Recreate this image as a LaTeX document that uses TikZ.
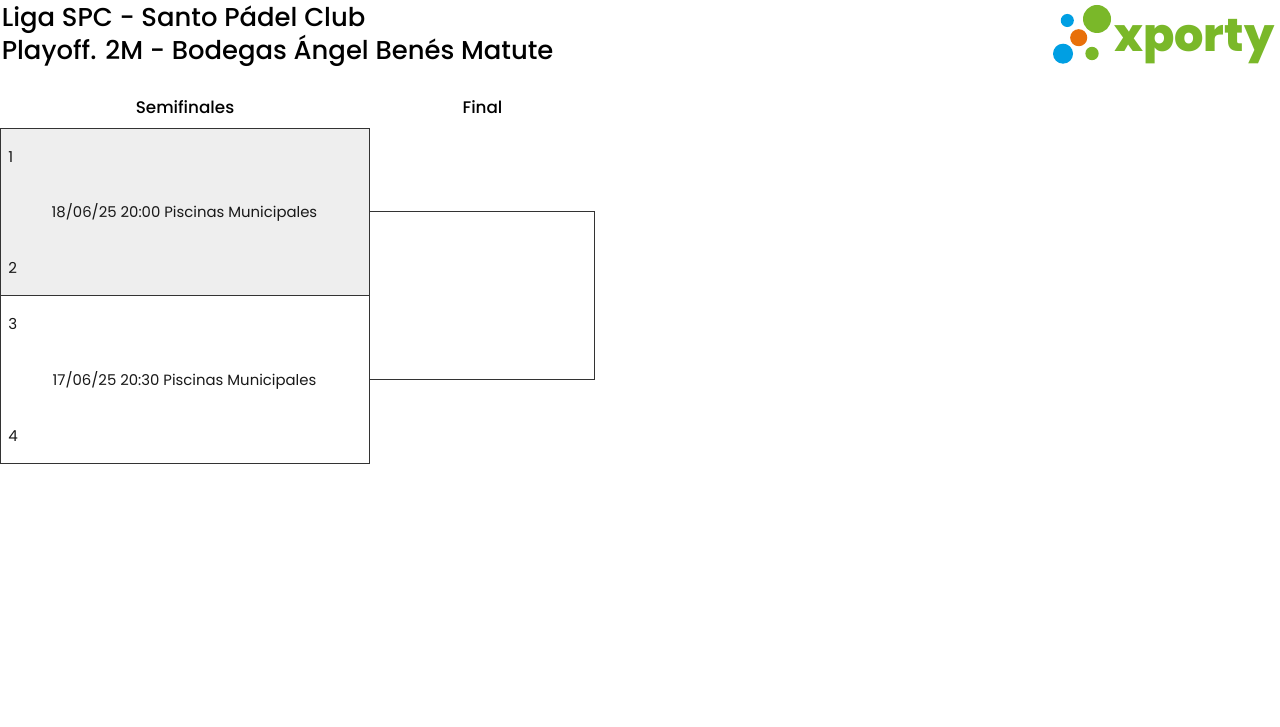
\documentclass[tikz,border=0pt]{standalone}
\usepackage{fontspec}
\setmainfont{Poppins}
\newfontfamily\mediumfont{Poppins Medium}
\newfontfamily\logofont{Poppins ExtraBold}
\definecolor{linecol}{HTML}{333333}
\definecolor{shade}{HTML}{EEEEEE}
\definecolor{xgreen}{HTML}{7AB829}
\definecolor{xblue}{HTML}{009FE3}
\definecolor{xorange}{HTML}{E8700A}
\tikzset{
  x=0.75pt,y=-0.75pt,
  matchbox/.style={draw=linecol,line width=0.75pt,outer sep=0pt,minimum width=276.75pt,minimum height=126pt,inner sep=0pt,anchor=north west},
  linkline/.style={draw=linecol,line width=0.75pt},
  titletext/.style={anchor=base west,inner sep=0pt,text=black,font=\mediumfont\fontsize{19.4pt}{24pt}\selectfont},
  headtext/.style={anchor=base,inner sep=0pt,text=black,font=\mediumfont\fontsize{12.6pt}{16pt}\selectfont},
  bodytext/.style={anchor=base,inner sep=0pt,text=black!90,font=\fontsize{11.15pt}{14pt}\selectfont},
  seed/.style={anchor=base west,inner sep=0pt,text=black!90,font=\fontsize{11.3pt}{14pt}\selectfont},
  dot/.style={circle,inner sep=0pt,draw=none},
}
\begin{document}
\begin{tikzpicture}
\useasboundingbox (0,0) rectangle (1280,727);
\fill[white] (0,0) rectangle (1280,727);
\node[titletext] (t1) at (1.5,27) {Liga SPC - Santo Pádel Club};
\node[titletext] (t2) at (1.5,60) {Playoff. 2M - Bodegas Ángel Benés Matute};
\node[headtext] (h1) at (185,113.5) {Semifinales};
\node[headtext] (h2) at (482.5,113.5) {Final};
\node[matchbox,fill=shade,minimum height=125.25pt] (m1) at (0.5,128.5) {};
\node[matchbox] (m2) at (0.5,295.5) {};
\node[bodytext] (d1) at (184.5,218) {18/06/25 20:00 Piscinas Municipales};
\node[bodytext] (d2) at (184.5,385) {17/06/25 20:30 Piscinas Municipales};
\node[seed] (s1) at (8,163) {1};
\node[seed] (s2) at (8,273) {2};
\node[seed] (s3) at (8,329) {3};
\node[seed] (s4) at (8,441) {4};
\coordinate (c1) at (594.5,211.5);
\coordinate (c2) at (594.5,379.5);
\draw[linkline] (c1 -| m1.east) -- (c1) -- (c2) -- (c2 -| m2.east);
\node[dot,fill=xgreen,minimum size=21pt] (g1) at (1097,19) {};
\node[dot,fill=xblue,minimum size=9.8pt] (b1) at (1067.3,20.5) {};
\node[dot,fill=xorange,minimum size=12.8pt] (o1) at (1078.7,37.7) {};
\node[dot,fill=xblue,minimum size=15pt] (b2) at (1063,53.7) {};
\node[dot,fill=xgreen,minimum size=10pt] (g2) at (1092,53.5) {};
\node[anchor=base west,inner sep=0pt,text=xgreen,font=\logofont\fontsize{34.6pt}{35pt}\selectfont] (logo) at (1114,52) {xporty};
\end{tikzpicture}
\end{document}
